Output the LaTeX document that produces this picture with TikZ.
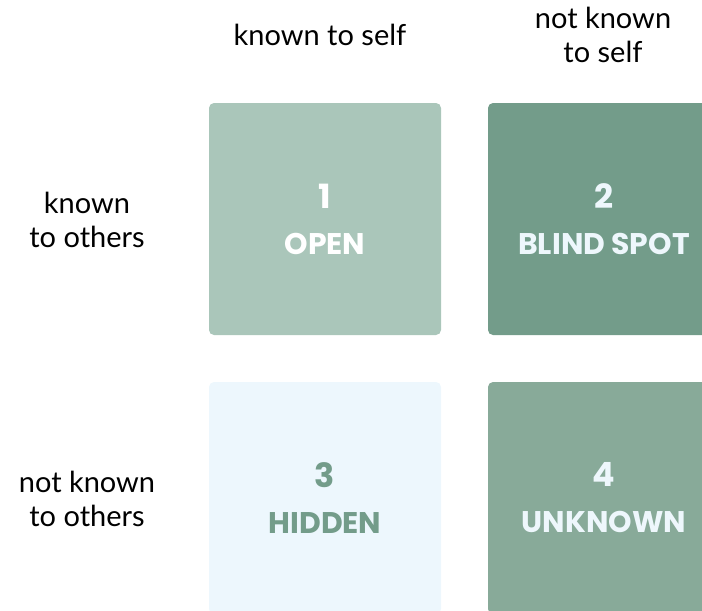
\documentclass[tikz,border=0pt]{standalone}
\usepackage{fontspec}
\setmainfont{Lato}
\newfontfamily\headfont{Poppins}
\definecolor{openfill}{HTML}{AAC6BA}
\definecolor{blindfill}{HTML}{739C8A}
\definecolor{hiddenfill}{HTML}{EDF7FD}
\definecolor{unknownfill}{HTML}{88AA99}
\definecolor{paletext}{HTML}{EEF7FC}
\begin{document}
\begin{tikzpicture}[
  pane/.style={rounded corners=0.1cm, minimum size=4.64cm, inner sep=0pt,
    align=center, font=\headfont\bfseries\fontsize{17}{19}\selectfont},
  side/.style={align=center, font=\fontsize{16.5}{19}\selectfont}]
\useasboundingbox (0,0) rectangle (14.04,-12.2);
\node[side] (S_1) at (6.4,-0.7) {known to self};
\node[side] (S_2) at (12.06,-0.7) {not known\\to self};
\node[side] (O_1) at (1.74,-4.4) {known\\to others};
\node[side] (O_2) at (1.74,-9.98) {not known\\to others};
\node[pane, fill=openfill, text=white] (Q_1) at (6.5,-4.38)
  {{\fontsize{19}{19}\selectfont 1}\\[0.25cm] OPEN};
\node[pane, fill=blindfill, text=paletext] (Q_2) at (12.08,-4.38)
  {{\fontsize{19}{19}\selectfont 2}\\[0.25cm] BLIND SPOT};
\node[pane, fill=hiddenfill, text=blindfill] (Q_3) at (6.5,-9.96)
  {{\fontsize{19}{19}\selectfont 3}\\[0.25cm] HIDDEN};
\node[pane, fill=unknownfill, text=paletext] (Q_4) at (12.08,-9.96)
  {{\fontsize{19}{19}\selectfont 4}\\[0.25cm] UNKNOWN};
\end{tikzpicture}
\end{document}
